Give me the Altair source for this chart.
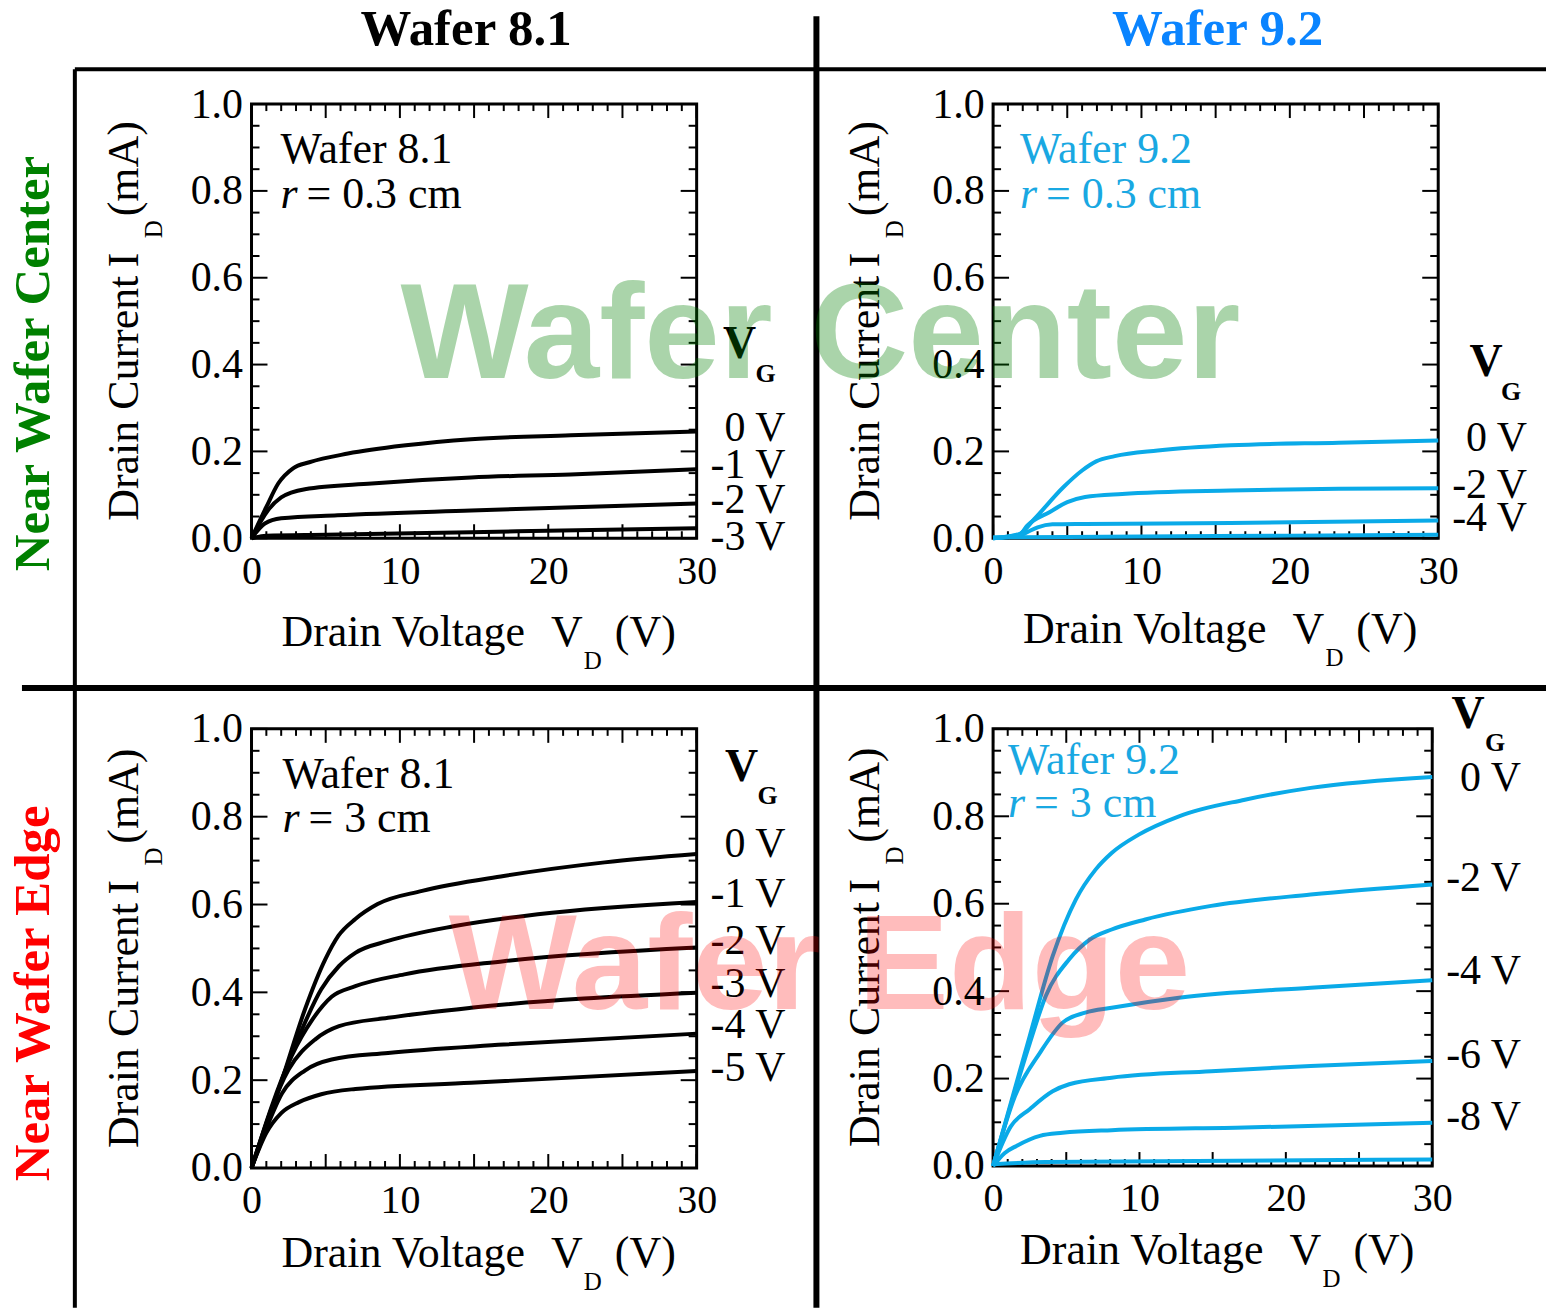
import altair as alt
import pandas as pd

SERIF = "Liberation Serif"
SANS = "Liberation Sans"
BLUE = "#0AAAE8"
BLUE_TXT = "#19A8E2"
BLUE_HEAD = "#0A84FF"

# ---------------- data ----------------
# Top-left: Wafer 8.1, r = 0.3 cm   (VD in V, ID in mA)
tl_gates = ["0 V", "-1 V", "-2 V", "-3 V"]
tl_vd_0 = [0, 1.0, 1.8, 2.8, 3.9, 6.5, 10.4, 14.8, 21.5, 30]
tl_id_0 = [0, 0.072, 0.126, 0.161, 0.175, 0.195, 0.214, 0.228, 0.237, 0.246]
tl_vd_1 = [0, 1.1, 2.0, 3.6, 8.1, 14.8, 21.5, 30]
tl_id_1 = [0, 0.064, 0.094, 0.113, 0.126, 0.140, 0.147, 0.159]
tl_vd_2 = [0, 0.9, 2.0, 5.8, 14.8, 30]
tl_id_2 = [0, 0.034, 0.046, 0.053, 0.064, 0.080]
tl_vd_3 = [0, 1.0, 5.0, 14.8, 30]
tl_id_3 = [0, 0.006, 0.008, 0.014, 0.023]
tl_label_text = ["0 V", "-1 V", "-2 V", "-3 V"]
tl_label_pos = [0.253, 0.168, 0.087, 0.002]

# Top-right: Wafer 9.2, r = 0.3 cm
tr_gates = ["0 V", "-2 V", "-4 V", "-6 V"]
tr_vd_0 = [0, 1.8, 2.8, 4.75, 6.0, 6.95, 8.2, 11.1, 16, 23.3, 30]
tr_id_0 = [0, 0.010, 0.045, 0.118, 0.156, 0.177, 0.189, 0.202, 0.214, 0.220, 0.225]
tr_vd_1 = [0, 1.8, 2.3, 3.8, 5.0, 6.2, 8.7, 16, 23.3, 30]
tr_id_1 = [0, 0.009, 0.029, 0.060, 0.083, 0.095, 0.102, 0.110, 0.114, 0.115]
tr_vd_2 = [0, 1.8, 2.3, 3.0, 4.0, 6.2, 16, 30]
tr_id_2 = [0, 0.006, 0.014, 0.025, 0.032, 0.033, 0.035, 0.041]
tr_vd_3 = [0, 10, 20, 30]
tr_id_3 = [0.002, 0.004, 0.006, 0.008]
tr_label_text = ["0 V", "-2 V", "-4 V"]
tr_label_pos = [0.23, 0.122, 0.046]

# Bottom-left: Wafer 8.1, r = 3 cm
bl_gates = ["0 V", "-1 V", "-2 V", "-3 V", "-4 V", "-5 V"]
bl_vd_0 = [0, 2.06, 3.6, 4.97, 5.86, 7, 8.5, 11.5, 17, 23.8, 30]
bl_id_0 = [0, 0.2015, 0.361, 0.475, 0.529, 0.567, 0.601, 0.631, 0.665, 0.696, 0.715]
bl_vd_1 = [0, 3.2, 4.7, 5.9, 7, 9.2, 13.7, 19.3, 30]
bl_id_1 = [0, 0.30, 0.407, 0.46, 0.49, 0.517, 0.551, 0.578, 0.606]
bl_vd_2 = [0, 2.7, 4.1, 5.4, 7, 10.3, 17, 30]
bl_id_2 = [0, 0.255, 0.338, 0.39, 0.414, 0.441, 0.471, 0.502]
bl_vd_3 = [0, 2.5, 4.3, 5.9, 9.2, 14.8, 30]
bl_id_3 = [0, 0.224, 0.293, 0.323, 0.342, 0.365, 0.399]
bl_vd_4 = [0, 1.0, 2.06, 3.6, 5.4, 9.2, 17, 30]
bl_id_4 = [0, 0.09, 0.17, 0.222, 0.247, 0.262, 0.281, 0.306]
bl_vd_5 = [0, 1.0, 2.0, 3.2, 4.7, 7, 14.8, 30]
bl_id_5 = [0, 0.08, 0.125, 0.150, 0.168, 0.180, 0.194, 0.221]
bl_label_text = ["0 V", "-1 V", "-2 V", "-3 V", "-4 V", "-5 V"]
bl_label_pos = [0.737, 0.623, 0.516, 0.418, 0.326, 0.228]

# Bottom-right: Wafer 9.2, r = 3 cm
br_gates = ["0 V", "-2 V", "-4 V", "-6 V", "-8 V", "-10 V"]
br_vd_0 = [0, 2.5, 4.07, 5.66, 7, 8.1, 9.95, 12.7, 17.2, 21.7, 30]
br_id_0 = [0, 0.297, 0.48, 0.61, 0.678, 0.716, 0.758, 0.80, 0.838, 0.865, 0.89]
br_vd_1 = [0, 2.5, 3.6, 5.2, 6.6, 8.1, 10.4, 14.9, 21.7, 30]
br_id_1 = [0, 0.28, 0.389, 0.473, 0.518, 0.541, 0.564, 0.595, 0.621, 0.644]
br_vd_2 = [0, 1.5, 3.2, 4.75, 6.3, 8.1, 12.7, 21.7, 30]
br_id_2 = [0, 0.16, 0.259, 0.328, 0.351, 0.362, 0.385, 0.408, 0.425]
br_vd_3 = [0, 1.2, 2.5, 4.07, 5.2, 8.1, 14.9, 21.7, 30]
br_id_3 = [0, 0.09, 0.130, 0.171, 0.187, 0.202, 0.217, 0.229, 0.24]
br_vd_4 = [0, 0.8, 1.6, 3.2, 4.75, 8.1, 17.2, 30]
br_id_4 = [0, 0.03, 0.046, 0.069, 0.076, 0.082, 0.088, 0.099]
br_vd_5 = [0, 3.6, 30]
br_id_5 = [0.004, 0.009, 0.015]
br_label_text = ["0 V", "-2 V", "-4 V", "-6 V", "-8 V"]
br_label_pos = [0.887, 0.659, 0.446, 0.253, 0.112]

# axis ticks
y_label_values = [0.0, 0.2, 0.4, 0.6, 0.8, 1.0]
y_major = [0.0, 0.2, 0.4, 0.6, 0.8, 1.0]
y_minor = [round(i * 0.05, 2) for i in range(21) if i % 4 != 0]
x_label_values = [0, 10, 20, 30]
x_major = [0, 5, 10, 15, 20, 25, 30]
x_minor = [i for i in range(31) if i % 5 != 0]

one = pd.DataFrame({"k": [0]})


def curves_df(gates, vds, ids):
    rows = []
    for g, vd, cur in zip(gates, vds, ids):
        for i, (a, b) in enumerate(zip(vd, cur)):
            rows.append({"vd": a, "id": b, "vg": g, "ord": i})
    return pd.DataFrame(rows)


def vtext(text, x, y, size=44, color="black", align="left", baseline="alphabetic",
          angle=0, weight="normal", style="normal", font=SERIF, opacity=1.0):
    return alt.Chart(one).mark_text(
        text=text, fontSize=size, color=color, align=align, baseline=baseline,
        angle=angle, fontWeight=weight, fontStyle=style, font=font, opacity=opacity
    ).encode(x=alt.value(x), y=alt.value(y))


def vrule(x, x2, y, y2, width):
    return alt.Chart(one).mark_rule(color="black", strokeWidth=width).encode(
        x=alt.value(x), x2=alt.value(x2), y=alt.value(y), y2=alt.value(y2))


XS = alt.Scale(domain=[0, 30], nice=False, zero=False)
YS = alt.Scale(domain=[0, 1], nice=False, zero=False)
XAX = alt.Axis(values=x_label_values, format="d", labelFont=SERIF, labelFontSize=40,
               labelColor="black", ticks=False, domain=False, grid=False, title=None,
               labelPadding=13, labelFlush=False, labelOverlap=False, zindex=1)
YAX = alt.Axis(values=y_label_values, format=".1f", labelFont=SERIF, labelFontSize=42,
               labelColor="black", ticks=False, domain=False, grid=False, title=None,
               labelPadding=9, labelFlush=False, labelOverlap=False, zindex=1)


def panel(df, color, w, h, lab_text, lab_pos, ann_color, ann1, ann2, ann_x, ann_eq_dx,
          ann_y1, ann_y2, xt_base, vg, pre=None, post=None):
    L = []
    if pre:
        L += pre
    # frame
    L.append(alt.Chart(one).mark_rect(fillOpacity=0, stroke="black", strokeWidth=3).encode(
        x=alt.value(0), x2=alt.value(w), y=alt.value(0), y2=alt.value(h)))
    # ticks (inward, all four sides)
    for vals, ln in ((y_major, 16), (y_minor, 8)):
        d = pd.DataFrame({"v": vals})
        for x0, x1 in ((0, ln), (w, w - ln)):
            L.append(alt.Chart(d).mark_rule(color="black", strokeWidth=2).encode(
                y=alt.Y("v:Q", scale=YS, axis=YAX), x=alt.value(x0), x2=alt.value(x1)))
    for vals, ln in ((x_major, 14), (x_minor, 7)):
        d = pd.DataFrame({"v": vals})
        for y0, y1 in ((h, h - ln), (0, ln)):
            L.append(alt.Chart(d).mark_rule(color="black", strokeWidth=2).encode(
                x=alt.X("v:Q", scale=XS, axis=XAX), y=alt.value(y0), y2=alt.value(y1)))
    # curves
    L.append(alt.Chart(df).mark_line(strokeWidth=4, color=color, interpolate="monotone").encode(
        x=alt.X("vd:Q", scale=XS, axis=XAX), y=alt.Y("id:Q", scale=YS, axis=YAX),
        detail="vg:N", order="ord:Q"))
    # gate-voltage labels
    ld = pd.DataFrame({"label": lab_text, "pos": lab_pos})
    L.append(alt.Chart(ld).mark_text(font=SERIF, fontSize=42, align="right", baseline="middle",
                                     color="black").encode(
        x=alt.value(w + 89), y=alt.Y("pos:Q", scale=YS, axis=YAX), text="label:N"))
    # V_G header
    L.append(vtext("V", w + vg[0], vg[1], size=46, weight="bold", align="center"))
    L.append(vtext("G", w + vg[2], vg[3], size=26, weight="bold", align="center"))
    # annotation
    L.append(vtext(ann1, ann_x, ann_y1, color=ann_color))
    L.append(vtext("r", ann_x, ann_y2, color=ann_color, style="italic"))
    L.append(vtext(ann2, ann_x + ann_eq_dx, ann_y2, color=ann_color))
    # x title
    cx = w / 2
    by = h + xt_base
    L.append(vtext("Drain Voltage", cx + 51, by, align="right"))
    L.append(vtext("V", cx + 77, by))
    L.append(vtext("D", cx + 119, by + 23, size=25, align="center"))
    L.append(vtext("(V)", cx + 141, by))
    # y title (rotated)
    cy = h / 2
    L.append(vtext("Drain Current", -114, cy + 200, angle=270))
    L.append(vtext("I", -114, cy - 54, angle=270))
    L.append(vtext("D", -90, cy - 92, size=25, angle=270, align="center"))
    L.append(vtext("(mA)", -114, cy - 105, angle=270))
    if post:
        L += post
    return alt.layer(*L).properties(width=w, height=h)


# decorations anchored to the top-left panel (plot origin at page 252,103)
deco = [
    alt.Chart(one).mark_rect(fill="white", strokeWidth=0).encode(
        x=alt.value(-252), x2=alt.value(1297), y=alt.value(-103), y2=alt.value(1206)),
    vrule(566, 566, -88, 1206, 6),
    vrule(-177, 1297, -35, -35, 4),
    vrule(-177, -177, -35, 1206, 4),
    vrule(-230, 1297, 585, 585, 6),
    vtext("Wafer 8.1", 215, -59, size=51, weight="bold", align="center"),
    vtext("Wafer 9.2", 968, -59, size=51, weight="bold", align="center", color=BLUE_HEAD),
    vtext("Near Wafer Center", -203, 260, size=51, weight="bold", align="center",
          angle=270, color="#008000"),
    vtext("Near Wafer Edge", -203, 891, size=51, weight="bold", align="center",
          angle=270, color="#FF0000"),
]

# watermarks anchored to the bottom-right panel (plot origin at page 995,724)
marks = [
    vtext("Wafer Center", -173, -352, size=136, weight="bold", align="center",
          font=SANS, color="#008000", opacity=0.33),
    vtext("Wafer Edge", -174, 281, size=136, weight="bold", align="center",
          font=SANS, color="#FF0000", opacity=0.26),
]

tl = panel(curves_df(tl_gates, [tl_vd_0, tl_vd_1, tl_vd_2, tl_vd_3],
                     [tl_id_0, tl_id_1, tl_id_2, tl_id_3]),
           "black", 446, 435, tl_label_text, tl_label_pos, "black",
           "Wafer 8.1", "= 0.3 cm", 29, 26, 59, 104, 108, (43, 254, 69, 278), pre=deco)
tr = panel(curves_df(tr_gates, [tr_vd_0, tr_vd_1, tr_vd_2, tr_vd_3],
                     [tr_id_0, tr_id_1, tr_id_2, tr_id_3]),
           BLUE, 446, 435, tr_label_text, tr_label_pos, BLUE_TXT,
           "Wafer 9.2", "= 0.3 cm", 27, 26, 59, 104, 105, (48, 272, 73, 297))
bl = panel(curves_df(bl_gates, [bl_vd_0, bl_vd_1, bl_vd_2, bl_vd_3, bl_vd_4, bl_vd_5],
                     [bl_id_0, bl_id_1, bl_id_2, bl_id_3, bl_id_4, bl_id_5]),
           "black", 446, 440, bl_label_text, bl_label_pos, "black",
           "Wafer 8.1", "= 3 cm", 31, 26, 59, 103, 99, (45, 52, 71, 75))
br = panel(curves_df(br_gates, [br_vd_0, br_vd_1, br_vd_2, br_vd_3, br_vd_4, br_vd_5],
                     [br_id_0, br_id_1, br_id_2, br_id_3, br_id_4, br_id_5]),
           BLUE, 440, 438, br_label_text, br_label_pos, BLUE_TXT,
           "Wafer 9.2", "= 3 cm", 15, 26, 45, 88, 98, (36, -1, 63, 22), post=marks)

chart = alt.concat(tl, tr, bl, br, columns=2,
                   spacing={"row": 186, "column": 297},
                   bounds="flush", align="all").properties(
    padding=0, background="white"
).configure_view(strokeWidth=0)

chart.save("out.html", embed_options={"renderer": "svg", "actions": False})
